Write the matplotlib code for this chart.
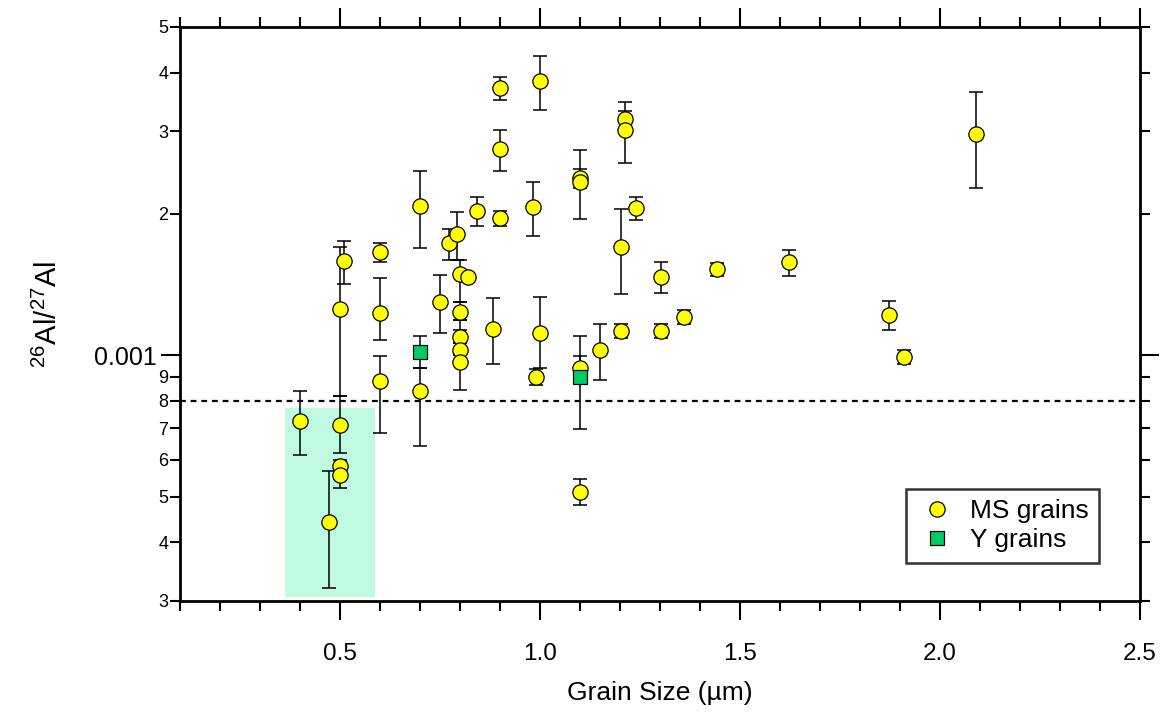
import matplotlib
matplotlib.use("Agg")
import matplotlib.pyplot as plt
from matplotlib.ticker import FixedLocator, FixedFormatter, MultipleLocator, FormatStrFormatter
from matplotlib.patches import FancyBboxPatch
import numpy as np

plt.rcParams['font.family'] = ['Liberation Sans', 'DejaVu Sans']
plt.rcParams['mathtext.fontset'] = 'custom'
plt.rcParams['mathtext.rm'] = 'Liberation Sans'
plt.rcParams['mathtext.it'] = 'Liberation Sans'

# ---- data (ratios in units of 1e-4) ----
ms_x = [0.40, 0.50, 0.50, 0.50, 0.472, 0.50, 0.511, 0.60, 0.60, 0.60,
        0.70, 0.70, 0.75, 0.772, 0.792, 0.80, 0.82, 0.80, 0.80, 0.80,
        0.80, 0.842, 0.882, 0.90, 0.90, 0.90, 0.982, 0.991, 1.00, 1.00,
        1.10, 1.10, 1.10, 1.10, 1.151, 1.202, 1.202, 1.212, 1.212, 1.241,
        1.302, 1.302, 1.361, 1.442, 1.622, 1.872, 1.911, 2.09]
ms_y = [7.26, 7.10, 5.81, 5.56, 4.42, 12.55, 15.88, 16.57, 12.29, 8.82,
        8.41, 20.78, 12.99, 17.31, 18.13, 14.87, 14.68, 12.38, 10.96, 10.28,
        9.67, 20.29, 11.39, 37.0, 27.45, 19.57, 20.72, 8.98, 38.37, 11.17,
        23.88, 23.42, 9.41, 5.125, 10.28, 11.26, 16.98, 31.84, 30.18, 20.62,
        14.68, 11.26, 12.07, 15.29, 15.80, 12.19, 9.93, 29.6]
ms_lo = [6.13, 6.21, 5.45, 5.21, 3.20, 8.20, 14.19, 15.82, 10.78, 6.84,
         6.41, 16.94, 11.17, 15.95, 15.95, 13.0, 14.4, 11.89, 10.6, 10.0,
         8.44, 18.88, 9.57, 34.9, 24.69, 18.86, 17.97, 8.65, 33.29, 9.38,
         22.68, 19.51, 8.9, 4.80, 8.85, 10.9, 13.49, 30.3, 25.63, 19.41,
         13.55, 10.87, 11.64, 14.75, 14.75, 11.33, 9.58, 22.7]
ms_hi = [8.41, 8.20, 5.98, 5.85, 5.66, 16.98, 17.54, 17.37, 14.59, 9.97,
         9.38, 24.7, 14.8, 18.55, 20.2, 15.95, 14.95, 13.0, 11.3, 10.6,
         11.89, 21.76, 13.22, 39.2, 30.18, 20.32, 23.35, 9.34, 43.44, 13.32,
         27.36, 24.92, 9.95, 5.45, 11.68, 11.66, 20.46, 34.67, 33.18, 21.76,
         15.82, 11.67, 12.49, 15.75, 16.76, 13.03, 10.26, 36.3]

y_x = [0.70, 1.10]
y_y = [10.18, 8.98]
y_lo = [9.38, 6.97]
y_hi = [10.99, 10.99]

threshold = 8.0           # dashed line, 1e-4 units
shade_x = [0.3625, 0.5875]
shade_y = [3.06, 7.72]

scale = 1e-4
ms_x = np.array(ms_x); ms_y = np.array(ms_y) * scale
ms_err = [ms_y - np.array(ms_lo) * scale, np.array(ms_hi) * scale - ms_y]
y_x = np.array(y_x); y_y = np.array(y_y) * scale
y_err = [y_y - np.array(y_lo) * scale, np.array(y_hi) * scale - y_y]

fig = plt.figure(figsize=(11.64, 7.19), dpi=100)
ax = fig.add_axes([180/1164, 1 - 601/719, 960/1164, 574/719])
ax.set_yscale('log')
ax.set_xlim(0.1, 2.5)
ax.set_ylim(3e-4, 5e-3)

# shaded region
ax.add_patch(FancyBboxPatch((shade_x[0], shade_y[0]*scale),
                            shade_x[1]-shade_x[0], (shade_y[1]-shade_y[0])*scale,
                            boxstyle='square,pad=0', facecolor='#c0fae0',
                            edgecolor='none', zorder=0))

ax.axhline(threshold*scale, color='black', lw=1.6, ls=(0, (2.6, 2.2)), zorder=1)

ax.errorbar(ms_x, ms_y, yerr=ms_err, fmt='none', ecolor='black', elinewidth=1.1,
            capsize=4.7, capthick=1.1, zorder=2)
ax.errorbar(y_x, y_y, yerr=y_err, fmt='none', ecolor='black', elinewidth=1.1,
            capsize=4.7, capthick=1.1, zorder=2)
ms_h, = ax.plot(ms_x, ms_y, 'o', ms=11, mfc='#ffff00', mec='black', mew=0.9,
                ls='none', zorder=3, label='MS grains')
y_h, = ax.plot(y_x, y_y, 's', ms=10.5, mfc='#00cc66', mec='black', mew=0.9,
               ls='none', zorder=4, label='Y grains')

# axes styling
for s in ax.spines.values():
    s.set_linewidth(2.0)

ax.xaxis.set_major_locator(FixedLocator([0.5, 1.0, 1.5, 2.0, 2.5]))
ax.xaxis.set_major_formatter(FormatStrFormatter('%.1f'))
ax.xaxis.set_minor_locator(MultipleLocator(0.1))

minor_vals = [3e-4, 4e-4, 5e-4, 6e-4, 7e-4, 8e-4, 9e-4, 2e-3, 3e-3, 4e-3, 5e-3]
minor_labs = ['3', '4', '5', '6', '7', '8', '9', '2', '3', '4', '5']
ax.yaxis.set_major_locator(FixedLocator([1e-3]))
ax.yaxis.set_major_formatter(FixedFormatter(['0.001']))
ax.yaxis.set_minor_locator(FixedLocator(minor_vals))
ax.yaxis.set_minor_formatter(FixedFormatter(minor_labs))

ax.tick_params(which='both', direction='out', top=True, right=True, width=1.5)
ax.tick_params(which='major', length=14)
ax.tick_params(which='minor', length=7)
ax.tick_params(axis='x', which='major', labelsize=17.5, pad=16)
ax.tick_params(axis='y', which='major', labelsize=18, pad=3)
ax.tick_params(axis='y', which='minor', labelsize=13, pad=1.5)

ax.set_xlabel('Grain Size (µm)', fontsize=19, labelpad=12)
ax.set_ylabel('$^{26}$Al/$^{27}$Al', fontsize=21, labelpad=22)

leg = ax.legend(handles=[ms_h, y_h], loc='lower right', fontsize=19,
                frameon=True, fancybox=False, edgecolor='black',
                bbox_to_anchor=(919/960, 38/574), borderpad=0.4,
                handletextpad=0.45, labelspacing=0.2, handlelength=1.55,
                borderaxespad=0)
leg.get_frame().set_linewidth(1.8)

fig.savefig('out.png', dpi=100)
